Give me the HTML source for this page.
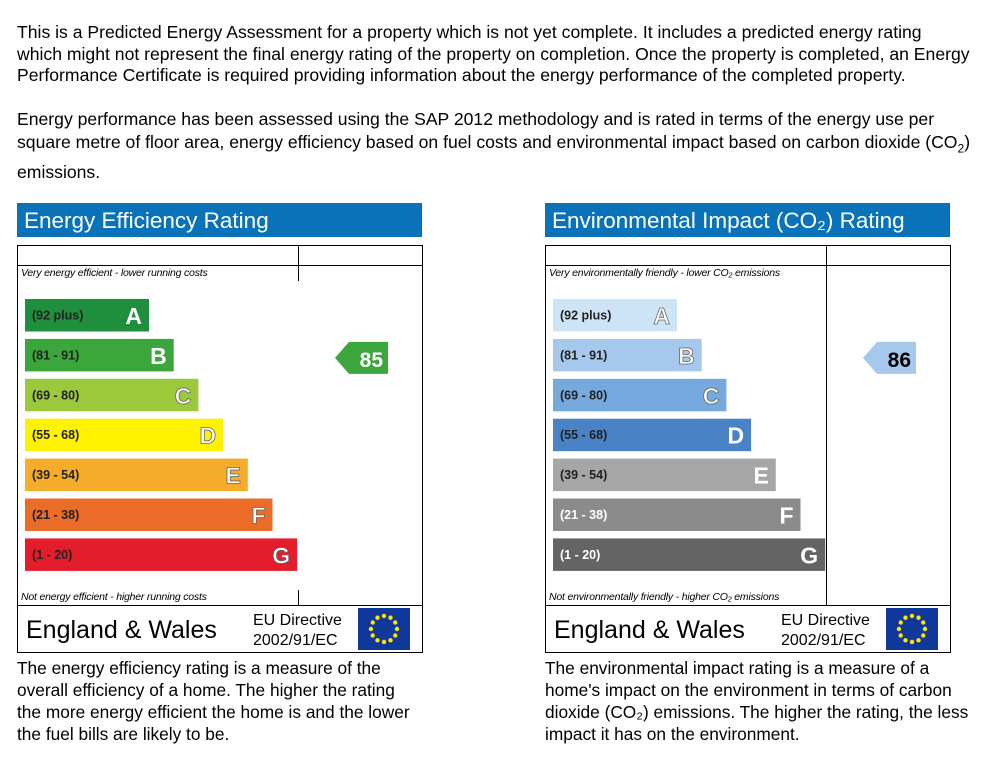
<!DOCTYPE html>
<html><head><meta charset="utf-8">
<style>
body{margin:0;background:#fff;width:1002px;height:763px;position:relative;overflow:hidden;font-family:"Liberation Sans",Arial,sans-serif;color:#000}
.p{position:absolute;left:17px;font-size:17.6px;line-height:21.5px;margin:0;white-space:nowrap}
.cap{position:absolute;font-size:17.3px;line-height:22px;margin:0;white-space:nowrap}
svg text{font-family:"Liberation Sans",Arial,sans-serif}
</style></head><body>
<p class="p" style="top:22px">This is a Predicted Energy Assessment for a property which is not yet complete. It includes a predicted energy rating<br>which might not represent the final energy rating of the property on completion. Once the property is completed, an Energy<br>Performance Certificate is required providing information about the energy performance of the completed property.</p>
<p class="p" style="top:108px;line-height:23px">Energy performance has been assessed using the SAP 2012 methodology and is rated in terms of the energy use per<br>square metre of floor area, energy efficiency based on fuel costs and environmental impact based on carbon dioxide (CO<sub style="font-size:12px">2</sub>)<br>emissions.</p>

<svg id="chart" width="1002" height="763" style="position:absolute;left:0;top:0"></svg>

<p class="cap" style="left:17px;top:657px">The energy efficiency rating is a measure of the<br>overall efficiency of a home. The higher the rating<br>the more energy efficient the home is and the lower<br>the fuel bills are likely to be.</p>
<p class="cap" style="left:545px;top:657px">The environmental impact rating is a measure of a<br>home's impact on the environment in terms of carbon<br>dioxide (CO₂) emissions. The higher the rating, the less<br>impact it has on the environment.</p>

<script>
const bands = ["A","B","C","D","E","F","G"];
const ranges = ["(92 plus)","(81 - 91)","(69 - 80)","(55 - 68)","(39 - 54)","(21 - 38)","(1 - 20)"];
const bandMin = [92,81,69,55,39,21,1];
const energyColors = ["#1f8e3d","#3ba63c","#9cc83c","#fff200","#f4ac2a","#ea6c28","#e31d2b"];
const envColors = ["#cde3f6","#a5c8ec","#76a9dd","#4a82c6","#a6a6a6","#8b8b8b","#646464"];
const energyRating = 85;
const envRating = 86;

const NS="http://www.w3.org/2000/svg";
const svg=document.getElementById('chart');
function mk(tag,attrs,parent){const e=document.createElementNS(NS,tag);for(const k in attrs)e.setAttribute(k,attrs[k]);(parent||svg).appendChild(e);return e;}
function bandIndex(v){for(let i=0;i<bandMin.length;i++){if(v>=bandMin[i])return i;}return bandMin.length-1;}
const yBand=i=>299+i*39.9;
const wBand=i=>124+i*24.7;

function panel(x0,title,topTxt,botTxt,colors,rating,name,fullDivider){
  const g=mk('g',{});
  
  
  const h=mk('rect',{x:x0,y:203,width:405,height:34,fill:'#0a72b9'},g);
  
  
  const t=mk('text',{x:x0+7,y:228,'font-size':22.5,fill:'#fff'},g);t.textContent=title;
  
  
  mk('rect',{x:x0+0.5,y:245.5,width:405,height:407,fill:'none',stroke:'#000','stroke-width':1},g);
  mk('line',{x1:x0,x2:x0+405,y1:265.5,y2:265.5,stroke:'#000'},g);
  mk('line',{x1:x0,x2:x0+405,y1:605.5,y2:605.5,stroke:'#000'},g);
  const dx=x0+281.5;
  if(fullDivider){mk('line',{x1:dx,x2:dx,y1:245,y2:605,stroke:'#000'},g);}
  else{mk('line',{x1:dx,x2:dx,y1:245,y2:281,stroke:'#000'},g);mk('line',{x1:dx,x2:dx,y1:590,y2:605,stroke:'#000'},g);}
  const tt=mk('text',{x:x0+4,y:276,'font-size':10.5,'font-style':'italic','letter-spacing':'-0.2'},g);tt.textContent=topTxt;
  const bt=mk('text',{x:x0+4,y:600,'font-size':10.5,'font-style':'italic','letter-spacing':'-0.2'},g);bt.textContent=botTxt;
  bands.forEach((b,i)=>{
    const y=yBand(i),w=wBand(i);
    const r=mk('rect',{x:x0+8,y:y,width:w,height:32.5,fill:colors[i]},g);
    
    
    const rt=mk('text',{x:x0+15,y:y+20.5,'font-size':12.5,'font-weight':'bold',fill:(i>=5&&colors===envColors)?'#fff':'#222'},g);rt.textContent=ranges[i];
    const noStroke=(colors===energyColors&&i<2)||(colors===envColors&&i>=3);
    const lt=mk('text',{x:x0+8+w-7,y:y+25,'font-size':23,'font-weight':'bold','text-anchor':'end',fill:'#fff',stroke:'#666','stroke-width':noStroke?0:0.8},g);lt.textContent=b;
  });
  const bi=bandIndex(rating);
  const ay=yBand(bi)+3, ax=x0+318;
  const a=mk('polygon',{points:`${ax},${ay+16} ${ax+14},${ay} ${ax+53},${ay} ${ax+53},${ay+32} ${ax+14},${ay+32}`,fill:colors[bi]},g);
  
  
  const at=mk('text',{x:ax+48,y:ay+25,'font-size':21,'font-weight':'bold','text-anchor':'end',fill:colors===envColors?'#000':'#fff'},g);at.textContent=rating;
  const e1=mk('text',{x:x0+9,y:638,'font-size':25},g);e1.textContent='England & Wales';
  const e2=mk('text',{x:x0+236,y:625,'font-size':16},g);e2.textContent='EU Directive';
  const e3=mk('text',{x:x0+236,y:645,'font-size':16},g);e3.textContent='2002/91/EC';
  const fl=mk('rect',{x:x0+341,y:608,width:52,height:42,fill:'#10389a'},g);
  
  
  for(let k=0;k<12;k++){const an=k*Math.PI/6;mk('circle',{cx:x0+367+13*Math.cos(an),cy:629+13*Math.sin(an),r:2.2,fill:'#ffe400'},g);}
}
panel(17,'Energy Efficiency Rating','Very energy efficient - lower running costs','Not energy efficient - higher running costs',energyColors,energyRating,'energy-efficiency-panel',false);
panel(545,'Environmental Impact (CO\u2082) Rating','Very environmentally friendly - lower CO\u2082 emissions','Not environmentally friendly - higher CO\u2082 emissions',envColors,envRating,'environmental-impact-panel',true);
</script>
</body></html>
